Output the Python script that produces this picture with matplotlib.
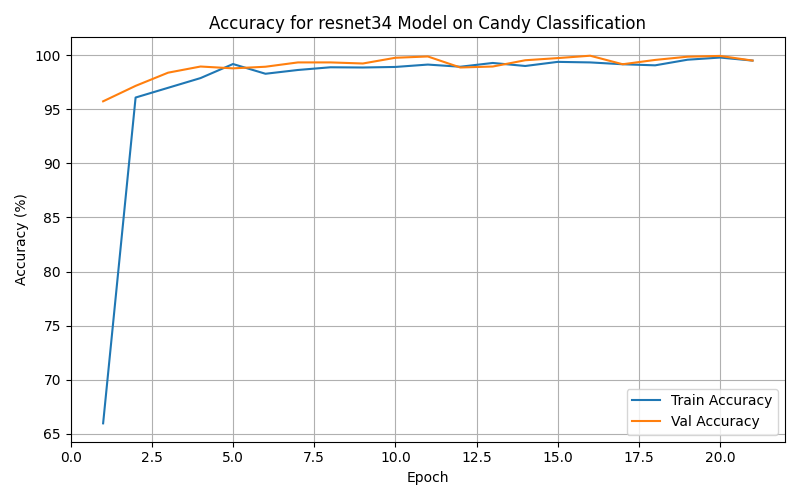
import matplotlib
matplotlib.use("Agg")
import matplotlib.pyplot as plt

epochs = list(range(1, 22))
train_acc = [65.95, 96.1, 97.0, 97.9, 99.2, 98.3, 98.65, 98.9, 98.88, 98.93, 99.15,
             98.95, 99.3, 99.02, 99.4, 99.35, 99.18, 99.08, 99.6, 99.8, 99.52]
val_acc = [95.75, 97.18, 98.4, 98.97, 98.8, 98.95, 99.35, 99.35, 99.25, 99.78, 99.9,
           98.88, 98.97, 99.55, 99.75, 99.97, 99.18, 99.58, 99.88, 99.95, 99.52]

fig, ax = plt.subplots(figsize=(8, 5), dpi=100)
ax.plot(epochs, train_acc, label="Train Accuracy")
ax.plot(epochs, val_acc, label="Val Accuracy")
ax.set_title("Accuracy for resnet34 Model on Candy Classification")
ax.set_xlabel("Epoch")
ax.set_ylabel("Accuracy (%)")
ax.legend(loc="lower right")
ax.grid(True)
fig.tight_layout()
fig.savefig("out.png")
